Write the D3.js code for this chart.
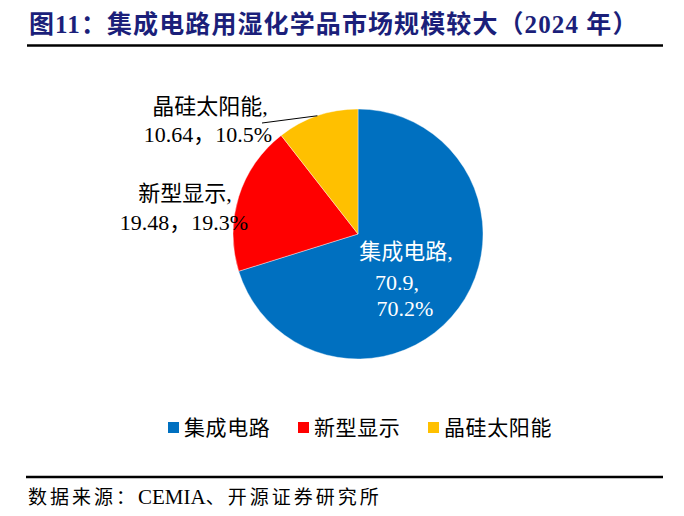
<!DOCTYPE html>
<html><head><meta charset="utf-8">
<script src="https://cdn.jsdelivr.net/npm/d3@7"></script>
<style>
html,body{margin:0;padding:0;background:#fff;}
svg{display:block;}
text{font-family:"Liberation Serif","Times New Roman","Noto Sans CJK SC",serif;}
</style></head>
<body>
<script>
const categories = ["集成电路", "新型显示", "晶硅太阳能"];
const values = [70.9, 19.48, 10.64];
const percents = ["70.2%", "19.3%", "10.5%"];
const colors = ["#0070C0", "#FF0000", "#FFC000"];
const titleText = "图11：集成电路用湿化学品市场规模较大（2024 年）";
const sourceParts = ["数据来源：", "CEMIA", "、开源证券研究所"];

const W = 684, H = 516;
const svg = d3.select("body").append("svg").attr("width", W).attr("height", H);

// title
svg.append("text").attr("x", 29).attr("y", 24)
  .attr("dominant-baseline", "central")
  .attr("font-size", 25).attr("font-weight", "bold")
  .attr("letter-spacing", 1.1)
  .attr("fill", "#1b1f7a").text(titleText);
svg.append("line").attr("x1", 27).attr("x2", 663).attr("y1", 45.5).attr("y2", 45.5)
  .attr("stroke", "#000").attr("stroke-width", 2.5);

// pie
const cx = 358, cy = 234, R = 125;
const pie = d3.pie().sort(null).value(d => d)(values);
const arc = d3.arc().innerRadius(0).outerRadius(R);
const g = svg.append("g").attr("transform", `translate(${cx},${cy})`);
g.selectAll("path").data(pie).join("path")
  .attr("d", arc).attr("fill", (d, i) => colors[i])
  .attr("stroke", "#fff").attr("stroke-width", 0.4);

// labels
const labelFont = 22;
const labelLayout = [
  {lines: [[categories[0] + ",", 406], [values[0] + ",", 397], [percents[0], 405]], ys: [251, 282, 308], fill: "#fff"},
  {lines: [[categories[1] + ",", 185], [values[1] + "，" + percents[1], 184]], ys: [193, 222], fill: "#000"},
  {lines: [[categories[2] + ",", 210], [values[2] + "，" + percents[2], 208]], ys: [106, 134], fill: "#000"}
];
labelLayout.forEach(L => {
  L.lines.forEach((ln, j) => {
    svg.append("text").attr("x", ln[1]).attr("y", L.ys[j])
      .attr("text-anchor", "middle").attr("dominant-baseline", "central")
      .attr("font-size", labelFont).attr("fill", L.fill).text(ln[0]);
  });
});

// leader line for solar slice
const solar = pie[2];
const mid = (solar.startAngle + solar.endAngle) / 2;
const ex = cx + R * Math.sin(mid), ey = cy - R * Math.cos(mid);
svg.append("line").attr("x1", 262).attr("y1", 123).attr("x2", ex).attr("y2", ey)
  .attr("stroke", "#000").attr("stroke-width", 1);

// legend
const legX = [168, 298, 428];
categories.forEach((c, i) => {
  svg.append("rect").attr("x", legX[i]).attr("y", 422).attr("width", 11).attr("height", 11)
    .attr("fill", colors[i]);
  svg.append("text").attr("x", legX[i] + 16).attr("y", 427.5)
    .attr("dominant-baseline", "central").attr("font-size", 21).attr("fill", "#000")
    .attr("letter-spacing", 0.6).text(c);
});

// bottom line + source
svg.append("line").attr("x1", 26).attr("x2", 663).attr("y1", 477).attr("y2", 477)
  .attr("stroke", "#000").attr("stroke-width", 2.5);
const src = svg.append("text").attr("x", 28).attr("y", 497)
  .attr("dominant-baseline", "central").attr("font-size", 19).attr("fill", "#000");
sourceParts.forEach((p, i) => {
  src.append("tspan").attr("letter-spacing", i === 1 ? 0 : 3)
    .attr("font-size", i === 1 ? 21 : 19).text(p);
});
</script>
</body></html>
